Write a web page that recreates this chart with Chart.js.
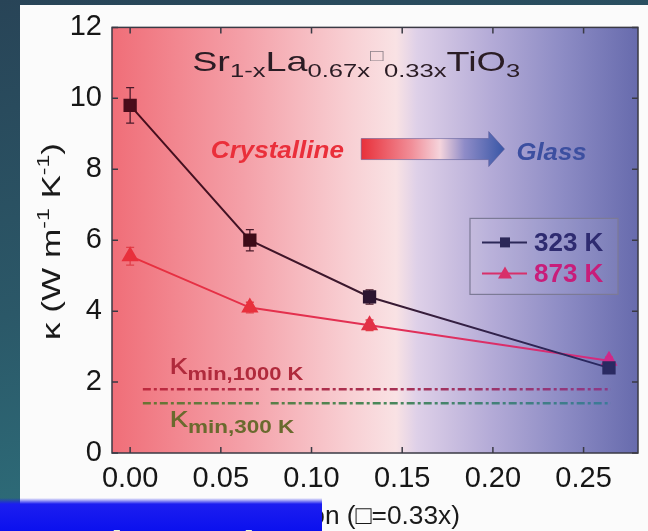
<!DOCTYPE html>
<html>
<head>
<meta charset="utf-8">
<script src="https://cdn.jsdelivr.net/npm/chart.js@4.4.1/dist/chart.umd.min.js"></script>
<style>
  html, body { margin: 0; padding: 0; width: 648px; height: 531px; overflow: hidden; }
  body {
    position: relative;
    background: linear-gradient(165deg, #284457 0%, #2b5868 45%, #2f7d87 100%);
    font-family: "Liberation Sans", Arial, sans-serif;
  }
  #panel { position: absolute; left: 20px; top: 5px; width: 628px; height: 526px; background: #fbfbfb; }
  #wrap { position: absolute; left: 0; top: 0; width: 648px; height: 531px; }
  #banner {
    position: absolute; left: 0; top: 498px; width: 322px; height: 33px; overflow: hidden;
    background: linear-gradient(180deg, rgba(40,44,240,0) 0px, #1c1ef0 6px, #0b10ee 100%);
  }
  #banner span {
    position: absolute; left: 96px; top: 27px; white-space: nowrap;
    font: bold 44px/1 "Liberation Sans", Arial, sans-serif; color: #e2f7da;
  }
</style>
</head>
<body>
<div id="panel"></div>
<div id="wrap"><canvas id="chart" width="648" height="531"></canvas></div>
<div id="banner"><span>thermal conductivity?</span></div>
<script>
// Thermal conductivity of Sr(1-x)La(0.67x)[]0.33x TiO3 versus vacancy fraction
const vacancyFraction = [0, 0.066, 0.132, 0.264];
const kappa323 = [9.8, 6.0, 4.4, 2.4];
const kappa323Err = [0.5, 0.3, 0.2, 0.1];
const kappa873 = [5.55, 4.1, 3.6, 2.6];
const kappa873Err = [0.25, 0.15, 0.15, 0.1];
const kappaMin1000 = 1.8;
const kappaMin300 = 1.4;
const kappaMinSpan = [0.007, 0.0725, 0.0775, 0.265];
const xTicks = [0, 0.05, 0.10, 0.15, 0.20, 0.25];
const yTicks = [0, 2, 4, 6, 8, 10, 12];
const seriesLabels = ['323 K', '873 K'];

const FONT = '"Liberation Sans", Arial, sans-serif';

function hGrad(chart, stops) {
  const { ctx, chartArea } = chart;
  if (!chartArea) return stops[0][1];
  const g = ctx.createLinearGradient(chartArea.left, 0, chartArea.right, 0);
  stops.forEach(s => g.addColorStop(s[0], s[1]));
  return g;
}

function fontOf(p) {
  return (p.style || '') + ' ' + (p.weight || 'normal') + ' ' + p.size + 'px ' + FONT;
}

// Draws a run of text pieces (with sub/superscripts), optionally stretched to a width
function drawRich(ctx, parts, x, y, targetW, color) {
  let w = 0;
  parts.forEach(p => { ctx.font = fontOf(p); p.w = ctx.measureText(p.t).width; w += p.w; });
  const sx = targetW ? targetW / w : 1;
  ctx.save();
  ctx.translate(x, y);
  ctx.scale(sx, 1);
  ctx.textAlign = 'left';
  ctx.textBaseline = 'alphabetic';
  let cx = 0;
  parts.forEach(p => {
    ctx.font = fontOf(p);
    ctx.fillStyle = p.color || color;
    ctx.fillText(p.t, cx, p.dy || 0);
    cx += p.w;
  });
  ctx.restore();
}

function kminLine(value) {
  return kappaMinSpan.map(x => ({ x, y: value }));
}

const backdrop = {
  id: 'backdrop',
  beforeDatasetsDraw(chart) {
    const { ctx, chartArea: a, scales: { x, y } } = chart;
    ctx.save();
    ctx.fillStyle = hGrad(chart, [
      [0, '#f06e78'], [0.25, '#f4a0a8'], [0.45, '#f8cfd3'], [0.54, '#f9e2e4'],
      [0.58, '#ded0e8'], [0.72, '#b4abd7'], [0.86, '#8c8bc4'], [1, '#676bad']
    ]);
    ctx.fillRect(a.left, a.top, a.right - a.left, a.bottom - a.top);

    // compound formula
    drawRich(ctx, [
      { t: 'Sr', size: 28 }, { t: '1-x', size: 19, dy: 6 },
      { t: 'La', size: 28 }, { t: '0.67x', size: 19, dy: 6 },
      { t: '\u25A1', size: 17, dy: -10, color: '#8c8088' }, { t: '0.33x', size: 19, dy: 6 },
      { t: 'TiO', size: 28 }, { t: '3', size: 19, dy: 6 }
    ], x.getPixelForValue(0.0342), y.getPixelForValue(10.77), 328, '#2a1c24');

    // crystalline -> glass arrow
    const ay = y.getPixelForValue(8.57);
    const x0 = x.getPixelForValue(0.1274), x1 = x.getPixelForValue(0.1977), x2 = x.getPixelForValue(0.2064);
    const g = ctx.createLinearGradient(x0, 0, x2, 0);
    g.addColorStop(0, '#e8303a'); g.addColorStop(0.35, '#f18e98');
    g.addColorStop(0.55, '#f5d4dc'); g.addColorStop(0.72, '#8f8cc8'); g.addColorStop(1, '#3856a6');
    ctx.beginPath();
    ctx.moveTo(x0, ay - 10.5); ctx.lineTo(x1, ay - 10.5); ctx.lineTo(x1, ay - 17.5);
    ctx.lineTo(x2, ay); ctx.lineTo(x1, ay + 17.5); ctx.lineTo(x1, ay + 10.5);
    ctx.lineTo(x0, ay + 10.5); ctx.closePath();
    ctx.fillStyle = g; ctx.fill();
    ctx.lineWidth = 1; ctx.strokeStyle = 'rgba(90,90,150,0.55)'; ctx.stroke();

    drawRich(ctx, [{ t: 'Crystalline', size: 24, weight: 'bold', style: 'italic' }],
      x.getPixelForValue(0.0445), y.getPixelForValue(8.32), 133, '#ea2f3a');
    drawRich(ctx, [{ t: 'Glass', size: 24, weight: 'bold', style: 'italic' }],
      x.getPixelForValue(0.213), y.getPixelForValue(8.26), 70, '#3c4fa0');

    // minimum conductivity labels
    drawRich(ctx, [{ t: '\u03BA', size: 30 }, { t: 'min,1000 K', size: 18, weight: 'bold', dy: 6 }],
      x.getPixelForValue(0.0216), y.getPixelForValue(2.23), 134, '#b02a3c');
    drawRich(ctx, [{ t: '\u03BA', size: 30 }, { t: 'min,300 K', size: 18, weight: 'bold', dy: 6 }],
      x.getPixelForValue(0.0216), y.getPixelForValue(0.73), 125, '#6a6a2e');
    ctx.restore();
  }
};

const errorBars = {
  id: 'errorBars',
  beforeDatasetsDraw(chart) {
    const { ctx, scales: { y } } = chart;
    const sets = [[0, kappa323, kappa323Err, '#4a1a2a'], [1, kappa873, kappa873Err, '#e0404a']];
    ctx.save();
    ctx.lineWidth = 1.3;
    sets.forEach(([di, vals, errs, col]) => {
      const meta = chart.getDatasetMeta(di);
      meta.data.forEach((pt, i) => {
        const yt = y.getPixelForValue(vals[i] + errs[i]);
        const yb = y.getPixelForValue(vals[i] - errs[i]);
        ctx.strokeStyle = col;
        ctx.beginPath();
        ctx.moveTo(pt.x, yt); ctx.lineTo(pt.x, yb);
        ctx.moveTo(pt.x - 4, yt); ctx.lineTo(pt.x + 4, yt);
        ctx.moveTo(pt.x - 4, yb); ctx.lineTo(pt.x + 4, yb);
        ctx.stroke();
      });
    });
    ctx.restore();
  }
};

const frame = {
  id: 'frame',
  afterDatasetsDraw(chart) {
    const { ctx, chartArea: a, scales: { x, y } } = chart;
    ctx.save();
    ctx.strokeStyle = '#3a3a44';
    ctx.lineWidth = 1.5;
    ctx.strokeRect(a.left, a.top, a.right - a.left, a.bottom - a.top);
    ctx.beginPath();
    xTicks.forEach(v => {
      const px = x.getPixelForValue(v);
      ctx.moveTo(px, a.bottom); ctx.lineTo(px, a.bottom - 6);
      ctx.moveTo(px, a.top); ctx.lineTo(px, a.top + 6);
    });
    yTicks.forEach(v => {
      const py = y.getPixelForValue(v);
      ctx.moveTo(a.left, py); ctx.lineTo(a.left + 6, py);
      ctx.moveTo(a.right, py); ctx.lineTo(a.right - 6, py);
    });
    ctx.stroke();

    // legend
    const bx = a.right - 168, by = a.top + 191, bw = 148, bh = 76;
    ctx.fillStyle = 'rgba(255,255,255,0.08)';
    ctx.fillRect(bx, by, bw, bh);
    ctx.strokeStyle = '#7c7a96'; ctx.lineWidth = 1.2;
    ctx.strokeRect(bx, by, bw, bh);
    const rows = [
      { label: seriesLabels[0], line: '#2c2858', text: '#2e2b70', shape: 'rect' },
      { label: seriesLabels[1], line: '#d8306a', text: '#c81d7a', shape: 'tri' }
    ];
    rows.forEach((r, i) => {
      const ry = by + 24 + i * 31;
      ctx.strokeStyle = r.line; ctx.lineWidth = 2;
      ctx.beginPath(); ctx.moveTo(bx + 12, ry); ctx.lineTo(bx + 57, ry); ctx.stroke();
      ctx.fillStyle = r.line;
      if (r.shape === 'rect') {
        ctx.fillRect(bx + 30, ry - 5, 10, 10);
      } else {
        ctx.beginPath(); ctx.moveTo(bx + 35, ry - 7); ctx.lineTo(bx + 42, ry + 5);
        ctx.lineTo(bx + 28, ry + 5); ctx.closePath(); ctx.fill();
      }
      drawRich(ctx, [{ t: r.label, size: 26, weight: 'bold' }], bx + 64, ry + 9, 0, r.text);
    });
    ctx.restore();
  },
  afterDraw(chart) {
    const { ctx } = chart;
    ctx.save();
    // y-axis title
    ctx.translate(60, 340);
    ctx.rotate(-Math.PI / 2);
    drawRich(ctx, [
      { t: '\u03BA (W m', size: 26 }, { t: '-1', size: 17, dy: -11 },
      { t: ' K', size: 26 }, { t: '-1', size: 17, dy: -11 }, { t: ')', size: 26 }
    ], 0, 0, 197, '#1a1a1a');
    ctx.restore();
    // x-axis title
    drawRich(ctx, [{ t: 'Vacancy fraction (\u25A1=0.33x)', size: 26 }], 147, 524, 313, '#1a1a1a');
  }
};

new Chart(document.getElementById('chart'), {
  type: 'line',
  data: {
    datasets: [
      {
        label: seriesLabels[0],
        data: vacancyFraction.map((x, i) => ({ x, y: kappa323[i] })),
        borderColor: c => hGrad(c.chart, [[0, '#4a0c1a'], [0.5, '#3a1a30'], [1, '#262a6a']]),
        borderWidth: 2,
        pointStyle: 'rect',
        pointRadius: 8,
        pointBackgroundColor: ['#4a0c1a', '#3e0c18', '#2c1430', '#2a2a62'],
        pointBorderColor: ['#4a0c1a', '#3e0c18', '#2c1430', '#2a2a62'],
        tension: 0,
        order: 0
      },
      {
        label: seriesLabels[1],
        data: vacancyFraction.map((x, i) => ({ x, y: kappa873[i] })),
        borderColor: c => hGrad(c.chart, [[0, '#e8303c'], [0.6, '#e0305a'], [1, '#d02a86']]),
        borderWidth: 2,
        pointStyle: 'triangle',
        pointRadius: 8,
        pointBackgroundColor: ['#e8303c', '#e8303c', '#e23046', '#d0288a'],
        pointBorderColor: ['#e8303c', '#e8303c', '#e23046', '#d0288a'],
        tension: 0,
        order: 1
      },
      {
        label: 'kmin 1000 K',
        data: kminLine(kappaMin1000),
        borderColor: c => hGrad(c.chart, [[0, '#c0283c'], [0.5, '#a83050'], [1, '#8a3a8c']]),
        borderWidth: 2.5,
        borderDash: [8, 3, 3, 3],
        pointRadius: 0,
        segment: { borderColor: s => s.p0DataIndex === 1 ? 'rgba(0,0,0,0)' : undefined },
        order: 3
      },
      {
        label: 'kmin 300 K',
        data: kminLine(kappaMin300),
        borderColor: c => hGrad(c.chart, [[0, '#70702e'], [0.5, '#4a8858'], [1, '#3a78a0']]),
        borderWidth: 2.5,
        borderDash: [8, 3, 3, 3],
        pointRadius: 0,
        segment: { borderColor: s => s.p0DataIndex === 1 ? 'rgba(0,0,0,0)' : undefined },
        order: 4
      }
    ]
  },
  options: {
    responsive: false,
    animation: false,
    devicePixelRatio: 1,
    layout: { padding: { top: 23, right: 4, left: 0, bottom: 0 } },
    plugins: { legend: { display: false }, tooltip: { enabled: false } },
    scales: {
      x: {
        type: 'linear', min: -0.01, max: 0.28,
        grid: { display: false, drawTicks: false },
        border: { display: false },
        afterBuildTicks: s => { s.ticks = xTicks.map(v => ({ value: v })); },
        afterFit: s => { s.height = 78; },
        ticks: {
          padding: 9, color: '#161616', maxRotation: 0, autoSkip: false,
          font: { family: FONT, size: 29 },
          callback: v => Number(v).toFixed(2)
        }
      },
      y: {
        type: 'linear', min: 0, max: 12,
        grid: { display: false, drawTicks: false },
        border: { display: false },
        afterBuildTicks: s => { s.ticks = yTicks.map(v => ({ value: v })); },
        afterFit: s => { s.width = 112; },
        ticks: {
          padding: 10, color: '#161616',
          font: { family: FONT, size: 29 },
          callback: v => String(v)
        }
      }
    }
  },
  plugins: [backdrop, errorBars, frame]
});
</script>
</body>
</html>
